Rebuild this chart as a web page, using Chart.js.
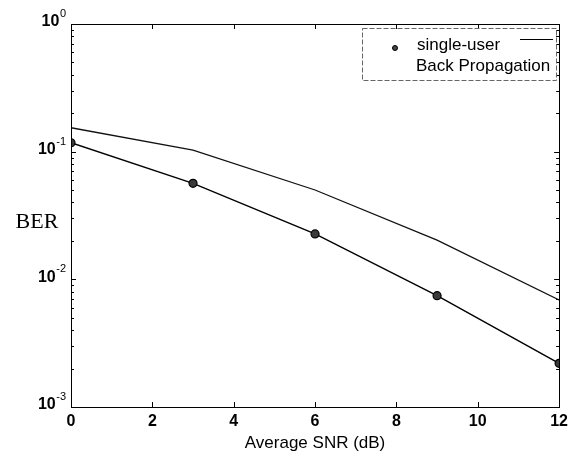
<!DOCTYPE html>
<html>
<head>
<meta charset="utf-8">
<script src="https://cdn.jsdelivr.net/npm/chart.js@4/dist/chart.umd.min.js"></script>
<style>
  html, body { margin: 0; padding: 0; background: #fff; }
  #wrap { width: 573px; height: 456px; position: relative; }
</style>
</head>
<body>
<div id="wrap"><canvas id="c" width="573" height="456"></canvas></div>
<script>
// ---- data ----
const snrDb = [0, 3, 6, 9, 12];
const singleUserBer = [0.1175, 0.0565, 0.0227, 0.00745, 0.0022];
const backPropBer = [0.154, 0.103, 0.0501, 0.0203, 0.00689];
const seriesLabels = ['single-user', 'Back Propagation'];
const xTickValues = [0, 2, 4, 6, 8, 10, 12];
const yTickValues = [1, 0.1, 0.01, 0.001];
const yTickExponents = ['0', '-1', '-2', '-3'];
const xTitle = 'Average SNR (dB)';
const yTitle = 'BER';

const FONT = '"Liberation Sans", Arial, sans-serif';

const framePlugin = {
  id: 'frame',
  afterDatasetsDraw(chart) {
    const ctx = chart.ctx;
    const a = chart.chartArea;
    const xs = chart.scales.x, ys = chart.scales.y;
    ctx.save();
    // box
    ctx.strokeStyle = '#000';
    ctx.lineWidth = 1;
    ctx.strokeRect(Math.round(a.left) + 0.5, Math.round(a.top) + 0.5,
                   Math.round(a.right - a.left), Math.round(a.bottom - a.top));
    // x ticks (inside, top & bottom)
    ctx.beginPath();
    xTickValues.forEach(v => {
      const px = Math.round(xs.getPixelForValue(v)) + 0.5;
      ctx.moveTo(px, a.bottom); ctx.lineTo(px, a.bottom - 5);
      ctx.moveTo(px, a.top); ctx.lineTo(px, a.top + 5);
    });
    // y ticks major & minor (inside, left & right)
    yTickValues.forEach(v => {
      const py = Math.round(ys.getPixelForValue(v)) + 0.5;
      ctx.moveTo(a.left, py); ctx.lineTo(a.left + 5, py);
      ctx.moveTo(a.right, py); ctx.lineTo(a.right - 5, py);
      if (v < 1) {
        for (let m = 2; m <= 9; m++) {
          const pm = Math.round(ys.getPixelForValue(v * m)) + 0.5;
          ctx.moveTo(a.left, pm); ctx.lineTo(a.left + 3, pm);
          ctx.moveTo(a.right, pm); ctx.lineTo(a.right - 3, pm);
        }
      }
    });
    ctx.stroke();

    // y tick labels 10^n
    ctx.fillStyle = '#000';
    ctx.textBaseline = 'middle';
    yTickValues.forEach((v, i) => {
      const py = ys.getPixelForValue(v);
      ctx.font = '11px ' + FONT;
      const exp = yTickExponents[i];
      const ew = ctx.measureText(exp).width;
      const right = a.left - 5;
      ctx.textAlign = 'left';
      ctx.fillText(exp, right - ew, py - 10);
      ctx.font = 'bold 16px ' + FONT;
      ctx.textAlign = 'right';
      ctx.fillText('10', right - ew - 0.5, py - 2);
    });

    // y title
    ctx.font = '22px "Liberation Serif", "Times New Roman", serif';
    ctx.textAlign = 'center';
    ctx.fillText(yTitle, 37, 222);

    // legend
    const lx = 362, ly = 28, lw = 194, lh = 52;
    ctx.strokeStyle = '#666';
    ctx.lineWidth = 1;
    ctx.setLineDash([5, 2]);
    ctx.strokeRect(lx + 0.5, ly + 0.5, lw, lh);
    ctx.setLineDash([]);
    ctx.font = '17px ' + FONT;
    ctx.textAlign = 'left';
    ctx.fillStyle = '#000';
    ctx.fillText(chart.data.datasets[0].label, 417, 45);
    ctx.fillText(chart.data.datasets[1].label, 416, 66);
    // single-user marker sample
    ctx.beginPath();
    ctx.arc(395, 48, 2.5, 0, Math.PI * 2);
    ctx.fillStyle = '#444';
    ctx.fill();
    ctx.strokeStyle = '#000';
    ctx.stroke();
    // line sample
    ctx.beginPath();
    ctx.moveTo(520, 39.5); ctx.lineTo(553, 39.5);
    ctx.strokeStyle = '#000';
    ctx.lineWidth = 1.2;
    ctx.stroke();
    ctx.restore();
  }
};

new Chart(document.getElementById('c'), {
  type: 'line',
  data: {
    datasets: [
      {
        label: seriesLabels[0],
        data: snrDb.map((x, i) => ({ x: x, y: singleUserBer[i] })),
        borderColor: '#000',
        borderWidth: 1.4,
        pointRadius: 4,
        pointBackgroundColor: '#3a3a3a',
        pointBorderColor: '#000',
        pointBorderWidth: 1.2,
        tension: 0
      },
      {
        label: seriesLabels[1],
        data: snrDb.map((x, i) => ({ x: x, y: backPropBer[i] })),
        borderColor: '#111',
        borderWidth: 1.3,
        pointRadius: 0,
        tension: 0
      }
    ]
  },
  options: {
    responsive: false,
    animation: false,
    layout: { padding: { left: 71, right: 13, top: 24, bottom: 0 } },
    plugins: { legend: { display: false }, tooltip: { enabled: false } },
    scales: {
      x: {
        type: 'linear',
        min: 0, max: 12,
        afterBuildTicks(s) { s.ticks = xTickValues.map(v => ({ value: v })); },
        afterFit(s) { s.height = 49; },
        grid: { display: false, drawTicks: false },
        border: { display: false },
        ticks: { color: '#000', font: { family: FONT, size: 16, weight: 'bold' }, padding: 5, maxRotation: 0 },
        title: { display: true, text: xTitle, color: '#000', font: { family: FONT, size: 17 }, padding: { top: 2, bottom: 2 } }
      },
      y: {
        type: 'logarithmic',
        min: 0.001, max: 1,
        display: false
      }
    }
  },
  plugins: [framePlugin]
});
</script>
</body>
</html>
